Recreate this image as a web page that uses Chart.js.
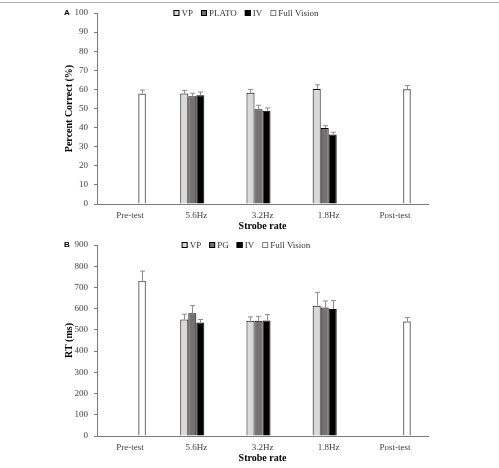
<!DOCTYPE html>
<html>
<head>
<meta charset="utf-8">
<script src="https://cdn.jsdelivr.net/npm/chart.js@4"></script>
<style>
  body { margin:0; background:#fff; width:499px; height:468px; overflow:hidden; position:relative; }
  #topline { position:absolute; left:0; top:2px; width:499px; border-top:1px solid #b4b4b4; }
  canvas { position:absolute; left:0; }
  #chartA { top:0; }
  #chartB { top:232px; }
</style>
</head>
<body>
<div id="topline"></div>
<canvas id="chartA" width="499" height="234"></canvas>
<canvas id="chartB" width="499" height="234"></canvas>
<script>
// categories
const rates = ["Pre-test", "5.6Hz", "3.2Hz", "1.8Hz", "Post-test"];

// panel A - percent correct
const accVP    = [null, 57.8, 58.2, 60.2, null];
const accPLATO = [null, 56.4, 49.6, 39.8, null];
const accIV    = [null, 57.0, 48.8, 36.4, null];
const accFV    = [57.8, null, null, null, 60.2];
const accVPerr    = [null, 1.7, 1.8, 2.2, null];
const accPLATOerr = [null, 1.6, 2.1, 1.2, null];
const accIVerr    = [null, 1.6, 1.5, 1.2, null];
const accFVerr    = [1.9, null, null, null, 1.8];

// panel B - RT (ms)
const rtVP = [null, 549, 543, 614, null];
const rtPG = [null, 578, 543, 605, null];
const rtIV = [null, 535, 544, 599, null];
const rtFV = [731, null, null, null, 541];
const rtVPerr = [null, 25, 18, 63, null];
const rtPGerr = [null, 36, 21, 31, null];
const rtIVerr = [null, 14, 28, 39, null];
const rtFVerr = [46, null, null, null, 17];

const SERIF = "'Liberation Serif', 'Times New Roman', serif";

// error bars (upper only)
const errorBars = {
  id: "errorBars",
  afterDatasetsDraw(chart){
    const ctx = chart.ctx;
    const yScale = chart.scales.y;
    ctx.save();
    ctx.strokeStyle = "#8c8c8c";
    ctx.lineWidth = 1;
    chart.data.datasets.forEach((ds, i)=>{
      const meta = chart.getDatasetMeta(i);
      meta.data.forEach((bar, j)=>{
        const v = ds.data[j];
        const e = ds.err[j];
        if(v == null || e == null) return;
        const x = Math.round(bar.x) + 0.5;
        const yTop = yScale.getPixelForValue(v + e);
        ctx.beginPath();
        ctx.moveTo(x, bar.y);
        ctx.lineTo(x, yTop);
        ctx.moveTo(x - 2.5, yTop);
        ctx.lineTo(x + 2.5, yTop);
        ctx.stroke();
      });
    });
    ctx.restore();
  }
};

// small legend row + panel letter
const boxLegend = {
  id: "boxLegend",
  afterDraw(chart, args, opts){
    const ctx = chart.ctx;
    ctx.save();
    ctx.font = "9px " + SERIF;
    ctx.textBaseline = "middle";
    const box = 6, gap = 2, space = 8;
    const items = chart.data.datasets.map(ds=>({
      text: ds.label, fill: ds.backgroundColor, stroke: ds.legendBorder,
      w: box + gap + ctx.measureText(ds.label).width
    }));
    const total = items.reduce((s,it)=>s+it.w,0) + space*(items.length-1);
    let x = opts.cx - total/2;
    const y = opts.y;
    items.forEach(it=>{
      ctx.fillStyle = it.fill;
      ctx.fillRect(x, y - box/2, box, box);
      ctx.strokeStyle = it.stroke;
      ctx.lineWidth = 1;
      ctx.strokeRect(x + 0.5, y - box/2 + 0.5, box - 1, box - 1);
      ctx.fillStyle = "#333";
      ctx.textAlign = "left";
      ctx.fillText(it.text, x + box + gap, y + 0.5);
      x += it.w + space;
    });
    ctx.font = "bold 8px 'Liberation Sans', Arial, sans-serif";
    ctx.fillStyle = "#000";
    ctx.textAlign = "center";
    ctx.fillText(opts.letter, 67, y);
    ctx.restore();
  }
};

function barSet(label, data, err, fill, border, bw){
  return {
    label, data, err,
    backgroundColor: fill,
    borderColor: border,
    borderWidth: bw,
    legendBorder: border,
    barPercentage: 1,
    categoryPercentage: 0.484
  };
}

function makeChart(id, datasets, yMax, yStep, yTitle, letter){
  return new Chart(document.getElementById(id), {
    type: "bar",
    data: { labels: rates, datasets },
    options: {
      responsive: false,
      animation: false,
      devicePixelRatio: 1,
      layout: { padding: { top: 13, right: 71, bottom: 0, left: 0 } },
      plugins: {
        legend: { display: false },
        tooltip: { enabled: false },
        boxLegend: { cx: 246, y: 13, letter }
      },
      scales: {
        x: {
          grid: { display: false, drawTicks: false },
          border: { display: true, color: "#7a7a7a", width: 1 },
          ticks: { color: "#404040", font: { family: SERIF, size: 9 }, padding: 6, maxRotation: 0 },
          title: { display: true, text: "Strobe rate", color: "#000",
                   font: { family: SERIF, size: 10, weight: "bold" }, padding: { top: 0, bottom: 2 } },
          afterFit(s){ s.height = 30; }
        },
        y: {
          min: 0, max: yMax,
          grid: { display: true, drawOnChartArea: false, drawTicks: true, tickLength: 3, tickColor: "#7a7a7a" },
          border: { display: true, color: "#7a7a7a", width: 1 },
          ticks: { stepSize: yStep, color: "#404040", font: { family: SERIF, size: 9 }, padding: 6 },
          title: { display: true, text: yTitle, color: "#000",
                   font: { family: SERIF, size: 10, weight: "bold" }, padding: { top: 63, bottom: 0 } },
          afterFit(s){ s.width = 97; }
        }
      }
    },
    plugins: [errorBars, boxLegend]
  });
}

makeChart("chartA", [
  barSet("VP", accVP, accVPerr, "#d9d9d9", "#000", 1),
  barSet("PLATO", accPLATO, accPLATOerr, "#767171", "#000", 1),
  barSet("IV", accIV, accIVerr, "#000000", "#000", 1),
  barSet("Full Vision", accFV, accFVerr, "#ffffff", "#7f7f7f", 1.5)
], 100, 10, "Percent Correct (%)", "A");

makeChart("chartB", [
  barSet("VP", rtVP, rtVPerr, "#d9d9d9", "#000", 1),
  barSet("PG", rtPG, rtPGerr, "#767171", "#000", 1),
  barSet("IV", rtIV, rtIVerr, "#000000", "#000", 1),
  barSet("Full Vision", rtFV, rtFVerr, "#ffffff", "#7f7f7f", 1.5)
], 900, 100, "RT (ms)", "B");
</script>
</body>
</html>
